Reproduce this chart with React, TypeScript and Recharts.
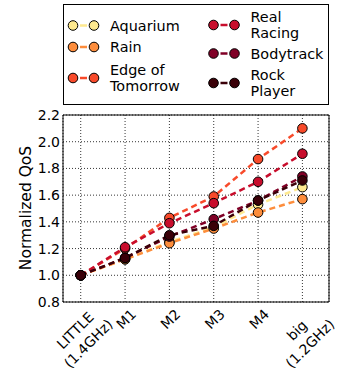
import React from 'react';
import { LineChart, Line, XAxis, YAxis, CartesianGrid, ReferenceArea, Label } from 'recharts';

const categories = ['LITTLE\n(1.4GHz)', 'M1', 'M2', 'M3', 'M4', 'big\n(1.2GHz)'];
const yTicks = [0.8, 1.0, 1.2, 1.4, 1.6, 1.8, 2.0, 2.2];

const aquarium = [1.0, 1.12, 1.25, 1.36, 1.53, 1.66];
const rain = [1.0, 1.12, 1.24, 1.35, 1.47, 1.57];
const edgeOfTomorrow = [1.0, 1.2, 1.43, 1.59, 1.87, 2.1];
const realRacing = [1.0, 1.21, 1.39, 1.54, 1.7, 1.91];
const bodytrack = [1.0, 1.13, 1.29, 1.42, 1.56, 1.74];
const rockPlayer = [1.0, 1.13, 1.3, 1.37, 1.56, 1.71];

const series = [
  { key: 'aquarium', name: 'Aquarium', color: '#fee98f', values: aquarium },
  { key: 'rain', name: 'Rain', color: '#fd8d3c', values: rain },
  { key: 'edge', name: 'Edge of\nTomorrow', color: '#f84a2a', values: edgeOfTomorrow },
  { key: 'real', name: 'Real\nRacing', color: '#c80d2c', values: realRacing },
  { key: 'body', name: 'Bodytrack', color: '#800026', values: bodytrack },
  { key: 'rock', name: 'Rock\nPlayer', color: '#3a0008', values: rockPlayer },
];

const data = categories.map((c, i) => {
  const row: Record<string, number> = { x: i };
  series.forEach((s) => (row[s.key] = s.values[i]));
  return row;
});

const FONT = '"DejaVu Sans", sans-serif';
const TICK_FS = 14;
const PLOT_BOTTOM = 302;

let ctx: CanvasRenderingContext2D | null = null;
const textWidth = (s: string) => {
  if (!ctx) ctx = document.createElement('canvas').getContext('2d');
  if (!ctx) return s.length * TICK_FS * 0.6;
  ctx.font = `${TICK_FS}px "DejaVu Sans"`;
  return ctx.measureText(s).width;
};

// rotated 45deg, glyph box centred on the tick, top edge a few px under the axis
const XTick = ({ x, payload }: any) => {
  const lines = categories[payload.value].split('\n');
  const w = Math.max(...lines.map(textWidth));
  const lh = 18.5;
  const h = (lines.length - 1) * lh + 10;
  const pad = lines.length > 1 ? 3 : 6;
  const cy = PLOT_BOTTOM + pad + (w + h) * 0.3536;
  return (
    <g transform={`translate(${x + 1},${cy}) rotate(-45)`}>
      {lines.map((l, i) => (
        <text
          key={i}
          x={0}
          y={(i - (lines.length - 1) / 2) * lh}
          textAnchor="middle"
          dominantBaseline="central"
          fontSize={TICK_FS}
          fontFamily={FONT}
          fill="#000"
        >
          {l}
        </text>
      ))}
    </g>
  );
};

const LegendEntry = ({ s, x, y }: any) => {
  const lines = s.name.split('\n');
  const lh = 16.5;
  return (
    <g>
      <line x1={x + 7} x2={x + 14} y1={y} y2={y} stroke={s.color} strokeWidth={2.5} />
      <circle cx={x} cy={y} r={4.8} fill={s.color} stroke="#000" strokeWidth={1} />
      <circle cx={x + 21} cy={y} r={4.8} fill={s.color} stroke="#000" strokeWidth={1} />
      {lines.map((l: string, i: number) => (
        <text
          key={i}
          x={x + 37}
          y={y + (i - (lines.length - 1) / 2) * lh}
          dominantBaseline="central"
          fontSize={14.4}
          fontFamily={FONT}
          fill="#000"
        >
          {l}
        </text>
      ))}
    </g>
  );
};

const legendPos = [
  { x: 73, y: 25.5 },
  { x: 73, y: 47 },
  { x: 73, y: 78 },
  { x: 213.5, y: 25 },
  { x: 213.5, y: 53.5 },
  { x: 213.5, y: 83 },
];

export default function App() {
  return (
    <div style={{ position: 'absolute', left: 0, top: 0, width: 339, height: 370, background: '#fff', overflow: 'hidden' }}>
      <LineChart
        width={339}
        height={370}
        data={data}
        margin={{ top: 115, right: 10, left: 0, bottom: 0 }}
        style={{ overflow: 'visible' }}
      >
        <CartesianGrid stroke="#000" strokeDasharray="1 2" strokeWidth={0.8} />
        <XAxis
          dataKey="x"
          type="number"
          domain={[-0.4, 5.6]}
          ticks={[0, 1, 2, 3, 4, 5]}
          height={68}
          tickLine={false}
          axisLine={false}
          tickSize={0}
          tickMargin={0}
          interval={0}
          tick={<XTick />}
        />
        <YAxis
          type="number"
          domain={[0.8, 2.2]}
          ticks={yTicks}
          width={63}
          tickLine={false}
          axisLine={false}
          tickSize={0}
          tickMargin={3}
          interval={0}
          tickFormatter={(v: number) => v.toFixed(1)}
          tick={{ fontSize: TICK_FS, fontFamily: FONT, fill: '#000' }}
        >
          <Label
            content={() => (
              <text
                x={26}
                y={208}
                transform="rotate(-90, 26, 208)"
                textAnchor="middle"
                dominantBaseline="central"
                fontSize={15.5}
                fontFamily={FONT}
                fill="#000"
              >
                Normalized QoS
              </text>
            )}
          />
        </YAxis>
        {series.map((s) => (
          <Line
            key={s.key}
            dataKey={s.key}
            name={s.name}
            stroke={s.color}
            strokeWidth={2.5}
            strokeDasharray="6 4"
            dot={{ r: 4.8, fill: s.color, stroke: '#000', strokeWidth: 1, strokeDasharray: '' }}
            activeDot={false}
            isAnimationActive={false}
          />
        ))}
        <ReferenceArea x1={-0.4} x2={5.6} y1={0.8} y2={2.2} fill="none" stroke="#000" strokeWidth={1} />
      </LineChart>
      <svg width={339} height={110} style={{ position: 'absolute', left: 0, top: 0 }}>
        <rect x={63.5} y={4.5} width={265} height={100} fill="#fff" stroke="#000" strokeWidth={1} />
        {series.map((s, i) => (
          <LegendEntry key={s.key} s={s} x={legendPos[i].x} y={legendPos[i].y} />
        ))}
      </svg>
    </div>
  );
}
